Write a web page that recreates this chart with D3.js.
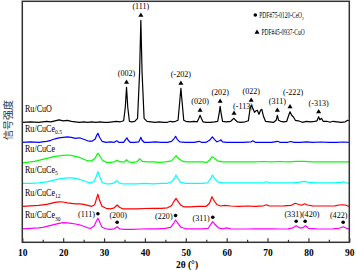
<!DOCTYPE html>
<html>
<head>
<meta charset="utf-8">
<script src="https://cdn.jsdelivr.net/npm/d3@7"></script>
<style>
  body { margin: 0; background: #fff; }
  svg { display: block; font-family: "Liberation Serif", "Times New Roman", serif; }
</style>
</head>
<body>
<div id="xrd"></div>
<script>
// 2theta / intensity pairs (a.u., stacked)
var cuo = [[10,120],[12,120.5],[14,120],[16,121],[17,120.5],[18,121.5],[19,122.5],[20,121.5],[21,122],[22,121],[23,120.5],[24,120],[25,120.5],[26,120],[27,120.5],[28,120],[29,120.5],[30,120],[31,120],[32,120.5],[33,121],[34,120.5],[34.8,121.5],[35.2,135],[35.5,155],[35.8,135],[36.2,121],[36.8,120.5],[37.5,121],[38.2,124],[38.7,170],[39.0,222],[39.3,170],[39.8,124],[40.5,121],[41.5,120.5],[42.5,120],[43.5,120.5],[44.5,120],[45.5,120],[46.2,121],[46.8,120.5],[47.5,121],[48.1,122],[48.5,140],[48.8,154],[49.1,140],[49.5,122],[50,121],[51,120.5],[52,121],[52.8,120.5],[53.2,124],[53.5,127],[53.8,124],[54.2,120.5],[55,120],[56,120],[57,120.5],[57.8,121],[58.2,130],[58.4,136],[58.6,130],[59,121],[60,120.5],[61,121],[61.5,123],[61.8,124],[62.2,122],[62.6,120.5],[63.5,120],[64.5,120.5],[65.3,121.5],[65.7,133],[66,137],[66.4,134],[66.8,130],[67.2,131.5],[67.5,132],[67.9,128],[68.3,132],[68.6,133],[69,126],[69.5,121],[70.5,120.5],[71.5,120],[72.1,122],[72.4,127],[72.7,122],[73.2,121],[74,120.5],[74.7,121],[75.1,126],[75.5,130.5],[75.9,127],[76.3,125.5],[76.8,122],[77.5,121.5],[78.5,120],[79.5,121],[80.5,120.5],[81.5,121],[82.1,121.5],[82.5,125.5],[82.8,122.5],[83.2,124],[83.6,121],[84.5,121],[85.3,120],[86,121],[87,120.5],[88,120],[89,120.5],[89.6,122],[90,121.5]];

var cuce05 = [[10,100],[12,100.5],[14,100],[15,100.5],[16,101],[17,102],[18,103.5],[19,104.5],[20,105],[21,105.5],[22,105],[23,104],[24,104.5],[25,103],[26,101.5],[27,101],[27.8,103],[28.2,107],[28.5,109],[28.9,105],[29.5,101],[30.5,100],[31.5,100.5],[32.5,100],[33.1,101.5],[33.6,100],[34.8,100],[35.3,103],[35.6,104.5],[35.9,102],[36.4,100],[37.5,100],[38.5,100.5],[38.8,103],[39,105],[39.3,102],[39.8,100],[41,100],[42.5,100.5],[44,100],[45.5,100],[46.5,101],[47.2,104],[47.5,106],[47.9,103],[48.5,100.5],[50,100],[52,100],[53.3,101],[53.8,100],[55,100],[55.8,102],[56.5,105.5],[57,103],[57.6,100.5],[58.3,101.5],[58.6,102.5],[59,100.5],[60,100],[62,100],[64,100],[66,100.5],[66.4,101.5],[67,100],[69,100],[71,100],[72.5,101],[73,100],[75,100],[75.6,100.8],[76.5,100],[78,100],[79.5,100.5],[81,100],[83,100.3],[85,100],[87,100],[88.5,100.3],[90,100]];

var cuce = [[10,79.5],[11,80],[12,80.5],[13,81],[14,82],[15,83],[16,84],[17,85],[18,86],[19,86.5],[20,87],[21,87.3],[22,87],[23,86],[24,85],[25,83],[26,81.5],[27,81.5],[27.8,84],[28.3,88],[28.6,89],[29,86],[29.6,82],[30.5,80],[31.5,80],[32.5,80.5],[33.2,82],[33.8,80.5],[35,80.5],[35.5,82.5],[36,80.5],[37,80],[38,80.5],[38.8,83.5],[39.3,81],[40.5,80.5],[42,80.5],[43.5,80],[45,80.5],[46.5,81.5],[47.3,85],[47.7,86.5],[48.2,84],[49,81.5],[50,80.5],[52,80.5],[54,80.5],[55.2,80],[55.8,82],[56.4,85.5],[57,84],[57.8,81.5],[59,80.5],[61,80.5],[63,80.5],[65,80.5],[67,80.5],[69,80.8],[71,80.5],[73,80.8],[75,80.5],[77,81],[79,81],[81,80.5],[83,80.5],[85,80.5],[87,80.5],[89,80.5],[90,80.5]];

var cuce5 = [[10,59],[12,59],[14,59.5],[15,60],[16,60.5],[17,61.5],[18,62.5],[19,63.5],[20,64],[21,64.5],[22,64.5],[23,64],[24,63],[25,61.5],[26,60],[26.8,59.5],[27.6,61],[28.1,66],[28.5,70.5],[28.9,66],[29.5,60],[30.5,58.5],[31.5,58.5],[32.5,59.5],[33.1,61.5],[33.7,59.5],[34.5,58.5],[36,58.5],[38,58.5],[40,59],[42,58.5],[44,59],[45.5,59],[46.5,60.5],[47.2,64],[47.6,67.3],[48,64],[48.8,60],[50,59],[52,59],[54,59],[55.3,59.5],[56,63],[56.5,67.3],[57,64],[57.8,60.5],[59,59.5],[61,59.5],[63,59.5],[65,59.5],[67,59.5],[69,59.5],[69.7,60.5],[70.5,59.5],[72,59.5],[74,59.5],[76,59.5],[77.5,60],[79,61],[80,60],[82,59.5],[84,59.5],[86,59.5],[88,60],[88.6,60.5],[89.3,59.5],[90,59]];

var cuce12 = [[10,36],[12,36.5],[14,37],[15,37.5],[16,38],[17,39],[18,40],[19,40.5],[20,40.3],[21,39.5],[22,39],[23,38.5],[24,38.5],[25,38],[26,37],[27,36],[27.7,37.5],[28.1,43],[28.5,48],[28.9,42],[29.5,36],[30.5,34],[31.5,33.5],[32.5,34.5],[33.2,37.3],[33.8,35],[34.5,33.5],[36,33.5],[38,33.5],[40,33.8],[42,34],[44,34],[45.5,34.5],[46.5,36.5],[47.2,41.5],[47.6,44],[48.1,41],[48.8,37],[49.5,35.5],[51,35.5],[53,36],[55,36],[55.8,39],[56.4,45.6],[57,41],[57.7,37.5],[58.5,36.3],[59.5,37],[61,36.3],[63,36],[65,36.3],[67,36],[69,36.5],[69.7,37.5],[70.5,36.3],[72,36.3],[74,36.5],[75.8,37],[76.8,39],[77.5,38],[78.3,37],[79.1,38.5],[79.8,37.3],[81,36.5],[83,36.3],[85,36.3],[86.5,36.5],[87.5,37.3],[88.3,37.5],[89,37.3],[90,35.8]];

var cuce30 = [[10,13.5],[12,14],[14,14.5],[15,15],[16,16],[17,17],[18,18],[19,19],[20,19.6],[21,19.5],[22,19],[23,18.3],[24,17.5],[25,16],[26,14.5],[26.8,14],[27.6,16.5],[28.1,21],[28.5,24],[28.9,20.5],[29.5,15],[30.5,13.5],[31.5,13],[32.5,13.5],[33.2,15.6],[33.8,13.5],[35,13],[37,13],[39,13.3],[41,13.5],[43,13.5],[45,14],[46.3,15],[47.1,19.5],[47.5,22.3],[48,19.5],[48.8,15],[50,13.5],[52,13.5],[54,13.5],[55.5,14],[56.1,18],[56.6,20.6],[57.1,18],[58,14.5],[59,13.5],[60,14.5],[61,13.5],[63,13.3],[65,13.3],[67,13.5],[69,13.5],[71,13.5],[73,13.3],[75,13.5],[76.2,14.5],[77,16.6],[77.8,14.5],[78.6,14.5],[79.3,16.6],[80,14],[82,13.5],[84,13.3],[86,13.5],[87.5,14],[88.5,15.6],[89.3,14],[90,13.3]];

var sampleNames = ["Ru/CuO", "Ru/CuCe", "Ru/CuCe", "Ru/CuCe", "Ru/CuCe", "Ru/CuCe"];
var sampleSubs = ["", "0.5", "", "5", "12", "30"];
var sampleData = [cuo, cuce05, cuce, cuce5, cuce12, cuce30];
var sampleColors = ["#000000", "#0000ff", "#00ff00", "#00ffff", "#ff0000", "#ff00ff"];

var cuoHkl = ["(002)", "(111)", "(-202)", "(020)", "(202)", "(-113)", "(022)", "(311)", "(-222)", "(-313)"];
var cuoPos = [35.5, 39.0, 48.8, 53.5, 58.4, 61.8, 66.0, 72.4, 75.5, 82.5];
var ceHkl = ["(111)", "(200)", "(220)", "(311)", "(331)", "(420)", "(422)"];
var cePos = [28.5, 33.2, 47.5, 56.6, 77.0, 79.2, 88.5];

var xTicks = [10, 20, 30, 40, 50, 60, 70, 80, 90];

var W = 356, H = 270;
var svg = d3.select("#xrd").append("svg")
    .attr("width", W)
    .attr("height", H);

var x = d3.scaleLinear().domain([10, 90]).range([22.3, 349.3]);
var y = d3.scaleLinear().domain([0, 241]).range([242.3, 1.3]);

var line = d3.line()
    .x(d => x(d[0]))
    .y(d => y(d[1]));

// squashed text (the figure is horizontally compressed)
function label(g, tx, ty, str, size, sx, anchor, weight) {
    return g.append("text")
        .attr("transform", "translate(" + tx + "," + ty + ") scale(" + sx + ",1)")
        .attr("text-anchor", anchor || "start")
        .style("font-size", size + "px")
        .style("font-weight", weight || "normal")
        .text(str);
}

// traces
svg.append("g")
    .selectAll("path")
    .data(sampleData)
    .enter()
    .append("path")
    .attr("d", line)
    .attr("fill", "none")
    .attr("stroke", (d, i) => sampleColors[i])
    .attr("stroke-width", 1.2)
    .attr("stroke-linejoin", "round");

// sample names
var names = svg.append("g");
sampleData.forEach(function (d, i) {
    var t = label(names, 25, y(d[0][1]) - 10.5, sampleNames[i], 9.5, 0.85);
    if (sampleSubs[i]) {
        t.append("tspan")
            .attr("dy", 2.5)
            .style("font-size", "6.5px")
            .text(sampleSubs[i]);
    }
});

function peakTop(series, t) {
    return d3.max(series.filter(p => Math.abs(p[0] - t) < 0.6), p => p[1]);
}

var tri = d3.symbol().type(d3.symbolTriangle).size(11);

// CuO markers
var cuoNudge = { "(-113)": [9, 2], "(-222)": [3, -6] };
var gCuo = svg.append("g");
cuoPos.forEach(function (t, i) {
    var px = x(t), py = y(peakTop(cuo, t)) - 5;
    gCuo.append("path")
        .attr("d", tri)
        .attr("transform", "translate(" + px + "," + py + ")")
        .attr("fill", "#000");
    var n = cuoNudge[cuoHkl[i]] || [0, 0];
    label(gCuo, px + n[0], py - 9 + n[1] + 3, cuoHkl[i], 9, 0.9, "middle");
});

// CeO2 markers
var ceLeft = { "(111)": 1, "(220)": 1, "(311)": 1 };
var ceNudge = { "(200)": 1, "(331)": -3, "(420)": 5.5, "(422)": -4.5 };
var gCe = svg.append("g");
cePos.forEach(function (t, i) {
    var px = x(t), py = y(peakTop(cuce30, t)) - 4.5;
    gCe.append("circle")
        .attr("cx", px)
        .attr("cy", py)
        .attr("r", 1.8)
        .attr("fill", "#000");
    if (ceLeft[ceHkl[i]]) {
        label(gCe, px - 3, py + 3.5, ceHkl[i], 9, 0.9, "end");
    } else {
        label(gCe, px + (ceNudge[ceHkl[i]] || 0), py - 7.5 + 3, ceHkl[i], 9, 0.9, "middle");
    }
});

// legend
var leg = svg.append("g");
leg.append("circle").attr("cx", 255.3).attr("cy", 15).attr("r", 1.8).attr("fill", "#000");
var l1 = label(leg, 259.3, 17.6, "PDF#75-0120-CeO", 7.5, 0.73);
l1.append("tspan").attr("dy", 2).style("font-size", "5px").text("2");
leg.append("path").attr("d", tri).attr("transform", "translate(257,32.3)").attr("fill", "#000");
label(leg, 261.5, 34.9, "PDF#45-0937-CuO", 7.5, 0.73);

// axis
var axis = svg.append("g")
    .attr("transform", "translate(0," + y(0) + ")")
    .call(d3.axisBottom(x).tickValues(xTicks).tickSizeInner(-4).tickSizeOuter(0).tickPadding(6));
axis.select(".domain").remove();
axis.selectAll("line").attr("stroke", "#333").attr("stroke-width", 1.2);
axis.selectAll("text")
    .attr("transform", "scale(0.9,1)")
    .style("font-size", "10.5px")
    .style("font-weight", "bold")
    .style("font-family", "'Liberation Serif', serif")
    .attr("fill", "#000");

var minor = svg.append("g")
    .attr("transform", "translate(0," + y(0) + ")")
    .call(d3.axisBottom(x).tickValues(xTicks.slice(1).map(v => v - 5)).tickSizeInner(-2.5).tickSizeOuter(0).tickFormat(""));
minor.select(".domain").remove();
minor.selectAll("line").attr("stroke", "#333").attr("stroke-width", 1.2);

// frame
svg.append("rect")
    .attr("x", x(10))
    .attr("y", y(241))
    .attr("width", x(90) - x(10))
    .attr("height", y(0) - y(241))
    .attr("fill", "none")
    .attr("stroke", "#333")
    .attr("stroke-width", 1.5);

label(svg, 187, 267.5, "2\u03b8 (\u00b0)", 10.5, 0.9, "middle", "bold");

svg.append("text")
    .attr("transform", "translate(12,120) rotate(-90)")
    .attr("text-anchor", "middle")
    .style("font-family", "'Noto Sans CJK SC', sans-serif")
    .style("font-size", "10px")
    .attr("fill", "#333")
    .text("信号强度");
</script>
</body>
</html>
